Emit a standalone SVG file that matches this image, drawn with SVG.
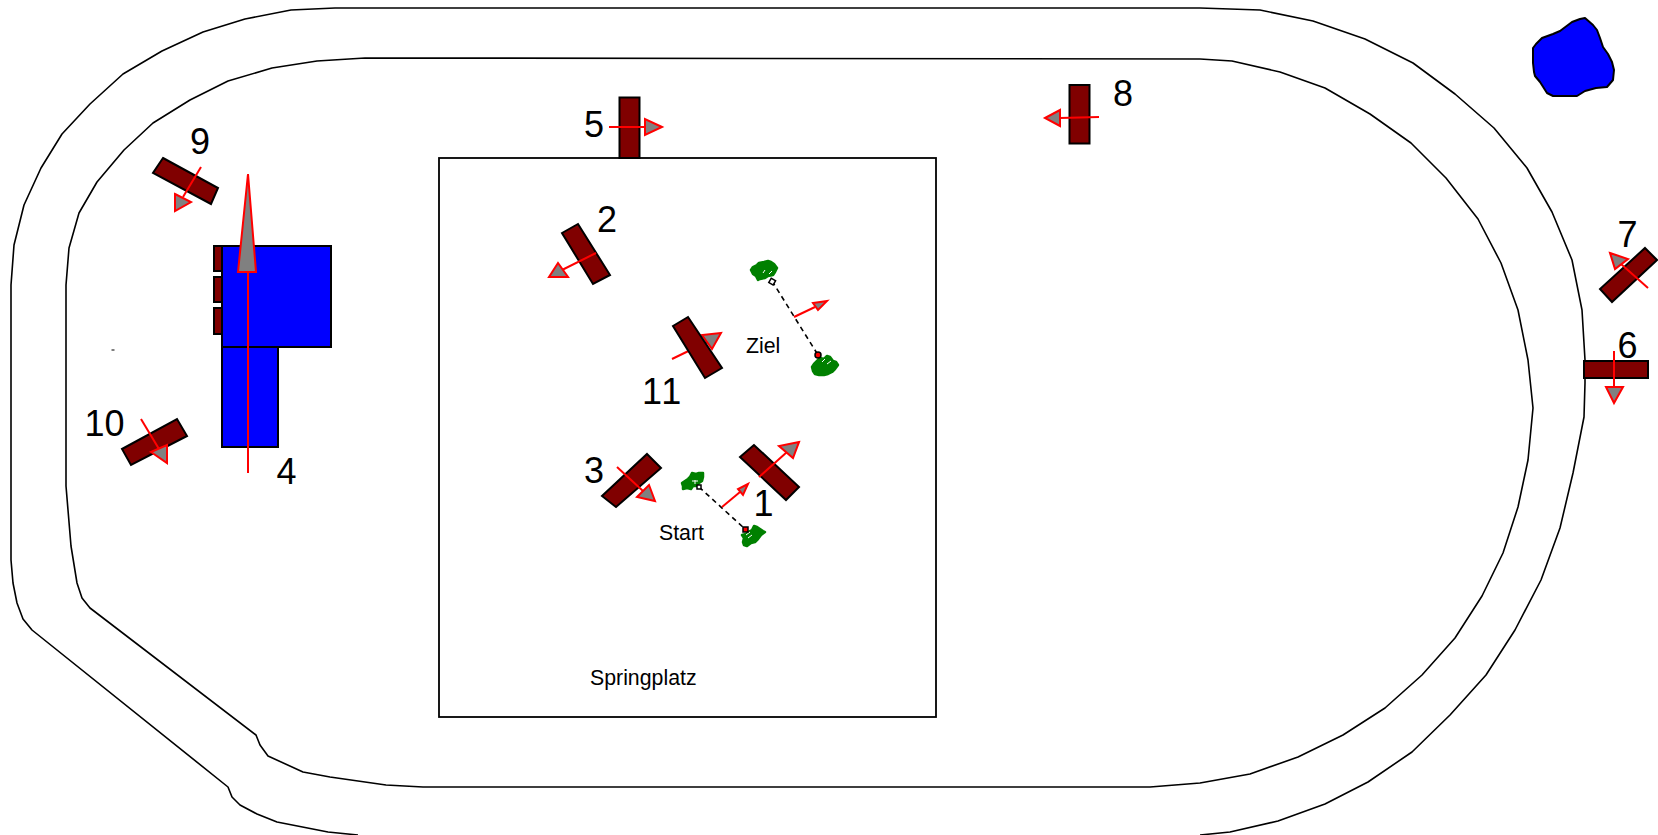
<svg xmlns="http://www.w3.org/2000/svg" width="1658" height="835" viewBox="0 0 1658 835">
<style>
.track{fill:none;stroke:#000;stroke-width:1.6;stroke-linejoin:round}
.bar{fill:#800000;stroke:#000;stroke-width:2;stroke-linejoin:miter}
.blue{fill:#0000ff;stroke:#000;stroke-width:2}
.num{font-family:"Liberation Sans",Arial,sans-serif;font-size:36px;fill:#000}
.lbl{font-family:"Liberation Sans",Arial,sans-serif;font-size:21.300px;fill:#000}
.al{stroke:#f00;stroke-width:2;fill:none}
.ah{fill:#808080;stroke:#f00;stroke-width:2;stroke-linejoin:miter}
.tree{fill:#008000;stroke:#008000;stroke-width:2.500;stroke-linejoin:round}
.tick{stroke:#fff;stroke-width:1;fill:none}
.gate{stroke:#000;stroke-width:1.600;stroke-dasharray:5 4;fill:none}
</style>
<rect width="1658" height="835" fill="#fff"/>
<g id="track-outer"><polyline class="track" points="358,835 328,832 277,822 257,814 240,805 232,797 228,787 32,630 23,619 17,603 13,583 11,560 11,285 14,245 24,205 41,168 62,134 90,104 123,74 162,51 203,32 245,19 291,10 335,8 1200,8 1260,10 1313,21 1365,39 1413,63 1455,94 1494,128 1527,168 1552,212 1572,260 1582,310 1585,360 1585,383 1584,417 1573,473 1560,528 1541,580 1515,630 1486,675 1450,715 1412,752 1368,782 1325,804 1278,821 1230,832 1200,835"/></g>
<g id="track-inner"><polygon class="track" points="386,785 330,777 303,772 268,756 260,745 256,735 90,608 82,598 77,583 71,546 66,486 66,285 69,248 79,213 97,182 124,150 153,123 190,100 228,81 272,68 317,61 365,58 1200,59 1232,61 1280,72 1325,88 1370,114 1411,143 1446,178 1478,219 1501,263 1518,310 1528,360 1533,408 1528,460 1518,507 1503,553 1482,596 1455,638 1422,675 1385,708 1343,735 1298,757 1250,774 1200,783 1150,787 423,787"/></g>
<g id="springplatz"><rect x="439" y="158" width="497" height="559" fill="none" stroke="#000" stroke-width="1.800"/><text class="lbl" x="590" y="685">Springplatz</text></g>
<g id="lake"><polygon points="1533,48 1536,44 1542,38 1553,34 1560,31 1568,25 1572,22 1580,19 1585,18 1593,25 1597,30 1600,38 1603,47 1608,54 1612,62 1614,70 1613,80 1607,87 1596,88 1585,91 1577,96 1565,96 1553,96 1547,93 1540,82 1535,76 1534,72 1533,63" fill="#0000ff" stroke="#000" stroke-width="2" stroke-linejoin="round"/></g>
<g id="building"><rect class="blue" x="222" y="246" width="109" height="101"/><rect class="blue" x="222" y="347" width="56" height="100"/><rect class="bar" x="214" y="246" width="8" height="25"/><rect class="bar" x="214" y="277" width="8" height="25"/><rect class="bar" x="214" y="308" width="8" height="26"/></g>
<g id="dot"><rect x="111.500" y="349.500" width="3" height="1" fill="#000"/></g>
<g id="start"><polygon class="tree" points="682,483 685,481 688,479 690,477 692,473 696,474 699,473 703,473 703,477 702,481 699,483 697,486 693,486 691,489 687,488 683,489 683,486"/><polygon class="tree" points="742,535 746,534 750,531 752,530 754,526 757,527 760,529 763,531 765,532 761,535 758,539 755,542 751,543 747,546 744,545 743,542 744,538"/><path class="tick" d="M692,481 H698 M695,480 V484 M746,535 L750,532 M748,538 L752,535"/><line class="gate" x1="699" y1="487" x2="745" y2="529"/><rect x="697" y="485" width="4" height="4" fill="#fff" stroke="#000" stroke-width="1.500"/><rect x="743" y="527" width="5" height="5" fill="#f00" stroke="#000" stroke-width="1.500"/><text class="lbl" x="659" y="540">Start</text></g>
<g id="ziel"><polygon class="tree" points="751,270 753,267 757,265 759,263 764,262 768,261 771,262 774,264 777,268 775,272 773,275 768,276 765,278 760,279 758,280 756,276 753,274"/><polygon class="tree" points="812,367 814,364 817,361 820,358 824,359 827,356 830,357 833,361 836,362 838,365 835,369 832,372 828,374 824,375 819,375 815,374 813,371"/><path class="tick" d="M763,273 L765,270 M769,274 L772,271 M822,362 L825,359 M827,364 L831,361"/><line class="gate" x1="772" y1="281" x2="818" y2="355"/><rect x="770" y="279" width="5" height="5" fill="#fff" stroke="#000" stroke-width="1.500" transform="rotate(30 772 281)"/><circle cx="818" cy="355" r="3" fill="#f00" stroke="#000" stroke-width="1.500"/><text class="lbl" x="746" y="352.500">Ziel</text></g>
<g id="obstacle-1"><polygon class="bar" points="754,445 740,457 786,500 799,487"/><text class="num" x="753.500" y="516">1</text></g>
<g id="obstacle-2"><polygon class="bar" points="562,233 578,224 610,275 593,284"/><text class="num" x="597" y="232">2</text></g>
<g id="obstacle-3"><polygon class="bar" points="647,454 661,468 616,507 602,496"/><text class="num" x="584" y="483">3</text></g>
<g id="obstacle-4"><text class="num" x="276.500" y="484">4</text></g>
<g id="obstacle-5"><rect class="bar" x="619.500" y="97.500" width="20" height="60.500"/><text class="num" x="584" y="137">5</text></g>
<g id="obstacle-6"><rect class="bar" x="1584" y="361" width="64" height="17"/><text class="num" x="1617.500" y="358">6</text></g>
<g id="obstacle-7"><polygon class="bar" points="1645,248 1657,260 1612,302 1600,289"/><text class="num" x="1617.500" y="247">7</text></g>
<g id="obstacle-8"><rect class="bar" x="1069.500" y="85" width="20" height="58.500"/><text class="num" x="1113" y="106">8</text></g>
<g id="obstacle-9"><polygon class="bar" points="163,158 218,188 211,204 153,173"/><text class="num" x="190" y="154">9</text></g>
<g id="obstacle-10"><polygon class="bar" points="122,449 177,419 187,436 131,465"/><text class="num" x="84.500" y="436">10</text></g>
<g id="connectors">
<line class="al" x1="759" y1="477" x2="787" y2="452"/><polygon class="ah" points="799,442 779,446 793,458"/>
<line class="al" x1="596" y1="253" x2="560" y2="271"/><polygon class="ah" points="558,263 549,277 568,277"/>
<line class="al" x1="617" y1="467" x2="643" y2="491"/><polygon class="ah" points="655,501 649,485 637,497"/>
<line class="al" x1="248" y1="473" x2="248" y2="272"/><polygon class="ah" points="248,174 238,272 256,272"/>
<line class="al" x1="609" y1="127" x2="645" y2="127"/><polygon class="ah" points="662,127 645,119 645,135"/>
<line class="al" x1="1614" y1="351" x2="1614" y2="387"/><polygon class="ah" points="1614,403 1606,387 1623,387"/>
<line class="al" x1="1648" y1="288" x2="1621" y2="264"/><polygon class="ah" points="1610,253 1628,259 1615,269"/>
<line class="al" x1="1099" y1="117" x2="1060" y2="118"/><polygon class="ah" points="1045,118 1060,110 1060,126"/>
<line class="al" x1="201" y1="167" x2="183" y2="197"/><polygon class="ah" points="175,194 191,202 175,211"/>
<line class="al" x1="141" y1="419" x2="159" y2="449"/><polygon class="ah" points="167,463 167,445 151,452"/>
<line class="al" x1="672" y1="359" x2="707" y2="342"/><polygon class="ah" points="721,333 702,335 712,349"/>
<line class="al" x1="722" y1="507" x2="740" y2="492"/><polygon class="ah" points="748,484 738,489 743,495"/>
<line class="al" x1="794" y1="317" x2="815" y2="307"/><polygon class="ah" points="827,301 813,303 818,310"/>
</g>
<g id="obstacle-11"><polygon class="bar" points="688,317 673,326 705,378 722,368"/><text class="num" x="642" y="404" letter-spacing="2">11</text></g>
</svg>
